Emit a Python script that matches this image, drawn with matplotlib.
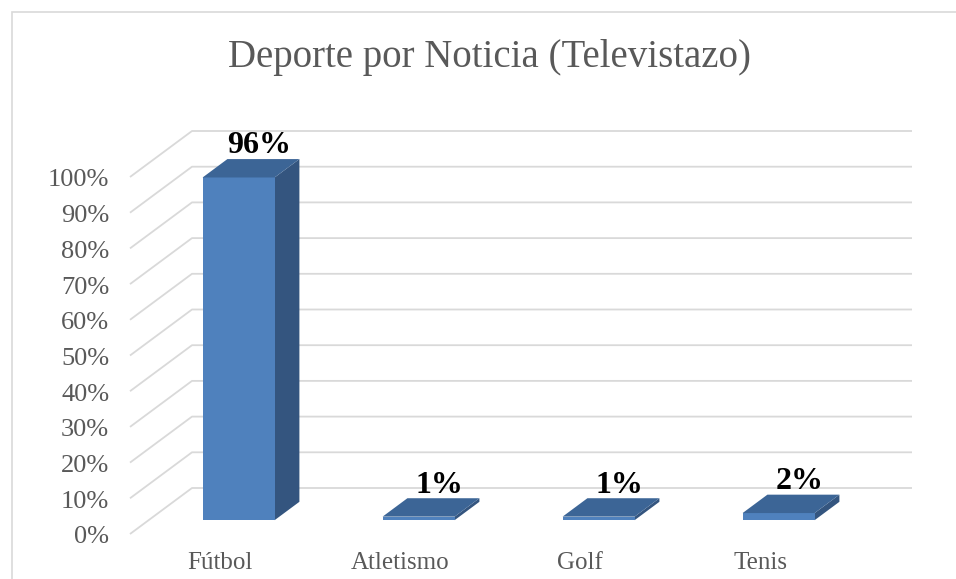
import matplotlib.pyplot as plt
from matplotlib.patches import Polygon, Rectangle

# data
categories = ["Fútbol", "Atletismo", "Golf", "Tenis"]
values = [96, 1, 1, 2]
value_labels = ["96%", "1%", "1%", "2%"]
y_ticks = [0, 10, 20, 30, 40, 50, 60, 70, 80, 90, 100]
y_tick_labels = [f"{t}%" for t in y_ticks]
title = "Deporte por Noticia (Televistazo)"

# pseudo-3D settings (depth shift per unit of depth, in data units)
DX = 62 / 180
DV = 46 / 3.57
BAR_W = 0.40
Z0, Z1 = 0.30, 0.70

FRONT = "#4F81BD"
SIDE = "#34557F"
TOP = "#3C6596"
GRID = "#D9D9D9"
TEXT = "#595959"
SERIF = ["Liberation Serif", "DejaVu Serif"]


def proj(x, v, z):
    return (x + DX * z, v + DV * z)


fig = plt.figure(figsize=(9.56, 5.79), dpi=100)
ax = fig.add_axes([0, 0, 1, 1])
ax.set_xlim(-220 / 180, 736 / 180)
ax.set_ylim((534 - 579) / 3.57, 534 / 3.57)
ax.axis("off")

# chart border
fig.patches.append(Rectangle((12 / 956, -0.05), 1.0, (579 - 12) / 579 + 0.05,
                             transform=fig.transFigure, fill=False,
                             edgecolor=GRID, lw=1.2))

n = len(categories)
left, right = -0.5, n - 0.5

# gridlines: side wall diagonals + back wall horizontals
for t in y_ticks:
    pts = [proj(left, t, 0), proj(left, t, 1), proj(right, t, 1)]
    ax.plot([p[0] for p in pts], [p[1] for p in pts], color=GRID, lw=1.3,
            zorder=1, solid_capstyle="butt")
    ax.annotate(y_tick_labels[t // 10], proj(left, t, 0), xytext=(-15, -2.5),
                textcoords="offset points", ha="right", va="center",
                fontsize=19, color=TEXT, family=SERIF)

# bars
for i, (cat, val) in enumerate(zip(categories, values)):
    x0, x1 = i - BAR_W / 2, i + BAR_W / 2
    front = [proj(x0, 0, Z0), proj(x1, 0, Z0), proj(x1, val, Z0), proj(x0, val, Z0)]
    side = [proj(x1, 0, Z0), proj(x1, 0, Z1), proj(x1, val, Z1), proj(x1, val, Z0)]
    top = [proj(x0, val, Z0), proj(x1, val, Z0), proj(x1, val, Z1), proj(x0, val, Z1)]
    ax.add_patch(Polygon(side, closed=True, facecolor=SIDE, edgecolor="none", zorder=2))
    ax.add_patch(Polygon(front, closed=True, facecolor=FRONT, edgecolor="none", zorder=3))
    ax.add_patch(Polygon(top, closed=True, facecolor=TOP, edgecolor="none", zorder=3))

    # value label above the back edge of the top face
    lx, ly = proj(i, val, Z1)
    ax.annotate(value_labels[i], (lx, ly), xytext=(-3, -1), textcoords="offset points",
                ha="center", va="bottom", fontsize=23, fontweight="bold",
                color="black", family=SERIF, zorder=5)

    # category label
    ax.annotate(cat, proj(i, 0, 0), xytext=(0, -21), textcoords="offset points",
                ha="center", va="center", fontsize=18, color=TEXT, family=SERIF)

fig.text(490 / 956, 1 - 57 / 579, title, ha="center", va="center",
         fontsize=28, color=TEXT, family=SERIF)

fig.savefig("out.png", dpi=100)
